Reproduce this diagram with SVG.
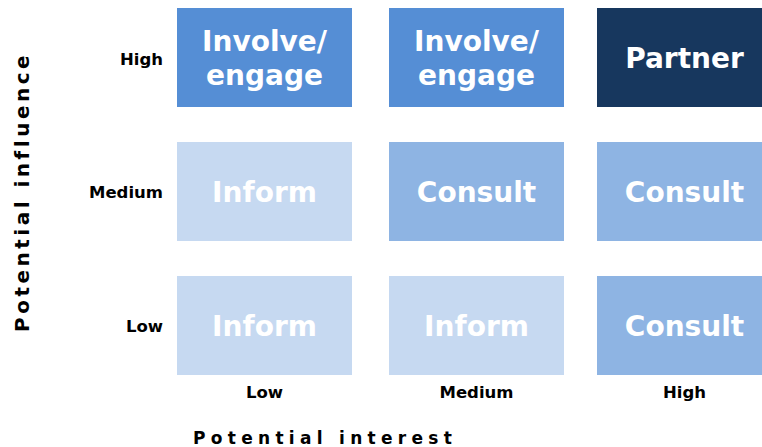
<svg xmlns="http://www.w3.org/2000/svg" width="762" height="447" viewBox="0 0 762 447">
<style>
.cell text{font-family:"DejaVu Sans",Verdana,sans-serif;font-weight:bold;font-size:28px;fill:#ffffff;text-anchor:middle}
.lbl{font-family:"DejaVu Sans",Verdana,sans-serif;font-weight:bold;font-size:16.5px;fill:#000000}
.axis{font-family:"DejaVu Sans",Verdana,sans-serif;font-weight:bold;fill:#000000}
.inv{fill:#558ED5}.par{fill:#17375E}.con{fill:#8EB4E3}.inf{fill:#C6D9F1}
</style>
<rect width="762" height="447" fill="#ffffff"/>
<g id="cell-high-low" class="cell"><rect class="inv" x="177" y="8" width="175" height="99"/><text x="264.5" y="51">Involve/</text><text x="264.5" y="85">engage</text></g>
<g id="cell-high-medium" class="cell"><rect class="inv" x="389" y="8" width="175" height="99"/><text x="476.5" y="51">Involve/</text><text x="476.5" y="85">engage</text></g>
<g id="cell-high-high" class="cell"><rect class="par" x="597" y="8" width="175" height="99"/><text x="684.5" y="68">Partner</text></g>
<g id="cell-medium-low" class="cell"><rect class="inf" x="177" y="142" width="175" height="99"/><text x="264.5" y="202">Inform</text></g>
<g id="cell-medium-medium" class="cell"><rect class="con" x="389" y="142" width="175" height="99"/><text x="476.5" y="202">Consult</text></g>
<g id="cell-medium-high" class="cell"><rect class="con" x="597" y="142" width="175" height="99"/><text x="684.5" y="202">Consult</text></g>
<g id="cell-low-low" class="cell"><rect class="inf" x="177" y="276" width="175" height="99"/><text x="264.5" y="336">Inform</text></g>
<g id="cell-low-medium" class="cell"><rect class="inf" x="389" y="276" width="175" height="99"/><text x="476.5" y="336">Inform</text></g>
<g id="cell-low-high" class="cell"><rect class="con" x="597" y="276" width="175" height="99"/><text x="684.5" y="336">Consult</text></g>
<g id="row-labels" class="lbl" text-anchor="end">
<text x="163" y="65">High</text><text x="163" y="198">Medium</text><text x="163" y="332">Low</text>
</g>
<g id="col-labels" class="lbl" text-anchor="middle">
<text x="264.5" y="398">Low</text><text x="476.5" y="398">Medium</text><text x="684.5" y="398">High</text>
</g>
<g id="axis-x"><text class="axis" x="193" y="444" font-size="17" letter-spacing="5.3">Potential interest</text></g>
<g id="axis-y"><text class="axis" transform="translate(29 332) rotate(-90)" font-size="20" letter-spacing="3.5">Potential influence</text></g>
</svg>
